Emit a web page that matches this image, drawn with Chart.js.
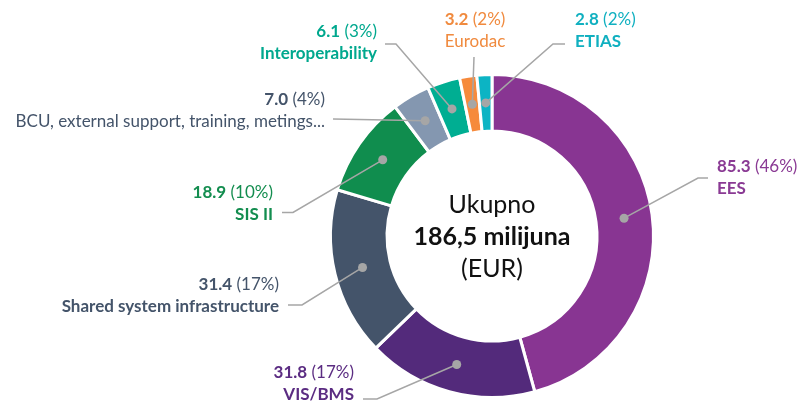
<!DOCTYPE html>
<html>
<head>
<meta charset="utf-8">
<title>Ukupno 186,5 milijuna (EUR)</title>
<script src="https://cdn.jsdelivr.net/npm/chart.js@4/dist/chart.umd.min.js"></script>
<style>
    body { margin: 0; background: #ffffff; }
    #wrap { width: 799px; height: 401px; }
</style>
</head>
<body>
<div id="wrap"><canvas id="budget-chart" width="799" height="401"></canvas></div>
<script>
// ===================================
// BUDGET BREAKDOWN DOUGHNUT
// ===================================

const categories = ['EES', 'VIS/BMS', 'Shared system infrastructure', 'SIS II',
    'BCU, external support, training, metings...', 'Interoperability', 'Eurodac', 'ETIAS'];
const amounts = [85.3, 31.8, 31.4, 18.9, 7.0, 6.1, 3.2, 2.8];

const sliceColors = ['#883592', '#532A7B', '#44546A', '#108D4E', '#8497B0', '#00AE92', '#F68A3C', '#0CB4C4'];
const textColors = ['#8A3A94', '#5B2C82', '#44546A', '#138D4F', '#44546A', '#00A88E', '#F08A3E', '#10B0C0'];
const boldNames = [true, true, true, true, false, true, false, true];

// where each callout goes (leader bend points + text anchor)
const labelLayout = [
    { path: [[698, 178], [708, 178]], x: 717, y: 167, align: 'left' },
    { path: [[377, 399], [363, 399]], x: 354, y: 373, align: 'right' },
    { path: [[302, 305], [288, 305]], x: 279, y: 285, align: 'right' },
    { path: [[293, 212.5], [282, 212.5]], x: 273, y: 193, align: 'right' },
    { path: [[333, 119]], x: 325, y: 100, align: 'right' },
    { path: [[396, 44], [385, 44]], x: 377, y: 32, align: 'right' },
    { path: [[474, 57]], x: 475, y: 20, align: 'center' },
    { path: [[553, 44], [565, 44]], x: 575, y: 20, align: 'left' }
];

const FONT = 'Lato, "Open Sans", sans-serif';
const LABEL_SIZE = '17px ';
const total = amounts.reduce((a, b) => a + b, 0);

const calloutPlugin = {
    id: 'callouts',
    afterDraw(chart) {
        const ctx = chart.ctx;
        const arcs = chart.getDatasetMeta(0).data;

        ctx.save();
        arcs.forEach((arc, i) => {
            const p = arc.getProps(['x', 'y', 'startAngle', 'endAngle', 'innerRadius', 'outerRadius'], true);
            const mid = (p.startAngle + p.endAngle) / 2;
            const r = (p.innerRadius + p.outerRadius) / 2;
            const dx = p.x + Math.cos(mid) * r;
            const dy = p.y + Math.sin(mid) * r;
            const lay = labelLayout[i];

            // leader line
            ctx.strokeStyle = '#A6A6A6';
            ctx.lineWidth = 1.5;
            ctx.beginPath();
            ctx.moveTo(dx, dy);
            lay.path.forEach(pt => ctx.lineTo(pt[0], pt[1]));
            ctx.stroke();

            ctx.fillStyle = '#A6A6A6';
            ctx.beginPath();
            ctx.arc(dx, dy, 4.5, 0, Math.PI * 2);
            ctx.fill();

            // value line: bold number + normal percentage
            const valTxt = amounts[i].toFixed(1);
            const pctTxt = ' (' + Math.round(amounts[i] / total * 100) + '%)';
            ctx.textBaseline = 'middle';
            ctx.fillStyle = textColors[i];
            ctx.font = 'bold ' + LABEL_SIZE + FONT;
            const w1 = ctx.measureText(valTxt).width;
            ctx.font = LABEL_SIZE + FONT;
            const w2 = ctx.measureText(pctTxt).width;
            let left = lay.x;
            if (lay.align === 'right') left = lay.x - w1 - w2;
            if (lay.align === 'center') left = lay.x - (w1 + w2) / 2;
            ctx.textAlign = 'left';
            ctx.font = 'bold ' + LABEL_SIZE + FONT;
            ctx.fillText(valTxt, left, lay.y);
            ctx.font = LABEL_SIZE + FONT;
            ctx.fillText(pctTxt, left + w1, lay.y);

            // category name
            ctx.font = (boldNames[i] ? 'bold ' : '') + LABEL_SIZE + FONT;
            ctx.textAlign = lay.align;
            ctx.fillText(categories[i], lay.x, lay.y + 22);
        });

        // centre text
        const c = arcs[0];
        ctx.fillStyle = '#111111';
        ctx.textAlign = 'center';
        ctx.textBaseline = 'middle';
        ctx.font = '25px ' + FONT;
        ctx.fillText('Ukupno', c.x, c.y - 31);
        ctx.font = 'bold 25px ' + FONT;
        ctx.fillText(total.toFixed(1).replace('.', ',') + ' milijuna', c.x, c.y + 1);
        ctx.font = '25px ' + FONT;
        ctx.fillText('(EUR)', c.x, c.y + 33);
        ctx.restore();
    }
};

new Chart(document.getElementById('budget-chart'), {
    type: 'doughnut',
    data: {
        labels: categories,
        datasets: [{
            data: amounts,
            backgroundColor: sliceColors,
            borderColor: '#ffffff',
            borderWidth: 3
        }]
    },
    options: {
        responsive: false,
        animation: false,
        cutout: '65%',
        layout: {
            padding: { left: 329, right: 144, top: 73, bottom: 2 }
        },
        plugins: {
            legend: { display: false },
            tooltip: { enabled: false }
        }
    },
    plugins: [calloutPlugin]
});
</script>
</body>
</html>
